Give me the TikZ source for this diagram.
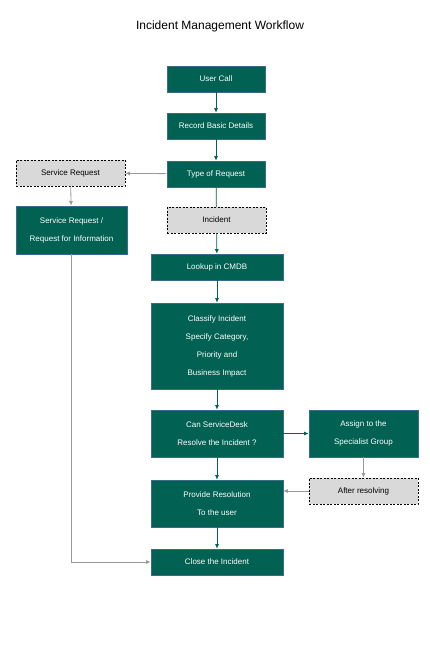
\documentclass[tikz,border=0pt]{standalone}
\usepackage{fontspec}
\setmainfont{Liberation Sans}
\usetikzlibrary{arrows.meta}
\definecolor{boxgreen}{HTML}{016152}
\definecolor{boxedge}{HTML}{3A6B8C}
\definecolor{dashfill}{HTML}{D9D9D9}
\definecolor{lineg}{HTML}{999999}
\tikzset{
  stepbox/.style={draw=boxedge, line width=0.6pt, fill=boxgreen, text=white,
    inner sep=0pt, align=center, font=\fontsize{8}{18}\selectfont},
  notebox/.style={draw=black, dash pattern=on 2pt off 1.5pt, line width=0.6pt, fill=dashfill, text=black,
    inner sep=0pt, align=center, font=\fontsize{8}{18}\selectfont},
  flow/.style={draw=boxgreen, line width=0.8pt, -{Latex[length=4.5pt,width=4pt]}},
  flowplain/.style={draw=boxgreen, line width=0.8pt},
  side/.style={draw=lineg, line width=0.8pt, -{Latex[length=4.5pt,width=4pt]}}
}
\begin{document}
\begin{tikzpicture}[x=1pt,y=-1pt]
                \useasboundingbox (0,0) rectangle (430,650);
                \node[font=\fontsize{12}{14}\selectfont] (title) at (220,26) {Incident Management Workflow};
                \node[stepbox, minimum width=98pt, minimum height=26pt] (call) at (216,79) {User Call};
                \node[stepbox, minimum width=98pt, minimum height=26pt] (record) at (216,126) {Record Basic Details};
                \node[stepbox, minimum width=98pt, minimum height=26pt] (type) at (216,174) {Type of Request};
                \node[notebox, minimum width=109pt, minimum height=26pt] (sreq) at (70.5,173) {Service Request};
                \node[stepbox, minimum width=111pt, minimum height=48pt] (srfi) at (71.5,230) {Service Request /\\Request for Information};
                \node[notebox, minimum width=99pt, minimum height=26pt] (incident) at (216.5,220) {Incident};
                \node[stepbox, minimum width=132pt, minimum height=26pt] (lookup) at (217,267) {Lookup in CMDB};
                \node[stepbox, minimum width=132pt, minimum height=86pt] (classify) at (217,346) {Classify Incident\\Specify Category,\\Priority and\\Business Impact};
                \node[stepbox, minimum width=132pt, minimum height=47pt] (canres) at (217,433.5) {Can ServiceDesk\\Resolve the Incident ?};
                \node[stepbox, minimum width=109pt, minimum height=47pt] (assign) at (363.5,433.5) {Assign to the\\Specialist Group};
                \node[notebox, minimum width=109pt, minimum height=26pt] (after) at (363.5,491) {After resolving};
                \node[stepbox, minimum width=132pt, minimum height=47pt] (provide) at (217,503.5) {Provide Resolution\\To the user};
                \node[stepbox, minimum width=132pt, minimum height=26pt] (close) at (217,562) {Close the Incident};
                \draw[flow] (call) -- (record);
                \draw[flow] (record) -- (type);
                \draw[flowplain] (type) -- (incident);
                \draw[flow] (incident) -- (lookup);
                \draw[flow] (lookup) -- (classify);
                \draw[flow] (classify) -- (canres);
                \draw[flow] (canres) -- (provide);
                \draw[flow] (provide) -- (close);
                \draw[flow] (canres) -- (assign);
                \draw[side] (type) -- (sreq);
                \draw[side] (sreq) -- (srfi);
                \draw[side] (assign) -- (after);
                \draw[side] (after.west) -- (after.west -| provide.east);
                \draw[side] (srfi.south) |- (close.west);
            \end{tikzpicture}
\end{document}
